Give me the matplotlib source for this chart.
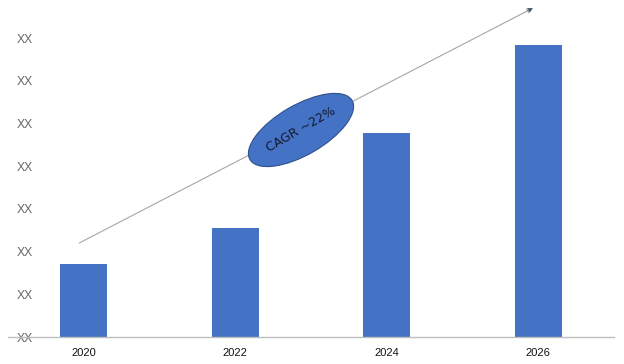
import matplotlib
matplotlib.use("Agg")
import matplotlib.pyplot as plt
from matplotlib.patches import Ellipse
from matplotlib.transforms import Affine2D

# --- DATA ---
years = ["2020", "2022", "2024", "2026"]
values = [1.71, 2.55, 4.78, 6.84]
tick_vals = [0, 1, 2, 3, 4, 5, 6, 7]
tick_labels = ["XX"] * len(tick_vals)
cagr_text = "CAGR ~22%"

BAR_COLOR = "#4472C4"

fig = plt.figure(figsize=(6.24, 3.64), dpi=100)
ax = fig.add_axes([8 / 624, 1 - 337 / 364, 606 / 624, 337 / 364])

x = list(range(len(years)))
ax.bar(x, values, width=0.31, color=BAR_COLOR, zorder=2)

ax.set_xlim(-0.5, 3.5)
ax.set_ylim(0, 7.89)
ax.set_yticks(tick_vals)
ax.set_yticklabels(tick_labels, color="#666666", fontsize=8.7, family="Liberation Sans")
ax.set_xticks(x)
ax.set_xticklabels(years, fontsize=8, family="Liberation Sans", color="#111111")
ax.tick_params(axis="both", length=0)
ax.tick_params(axis="y", pad=-6)
ax.tick_params(axis="x", pad=8)
for lbl in ax.get_yticklabels():
    lbl.set_horizontalalignment("left")

for side in ["top", "right", "left"]:
    ax.spines[side].set_visible(False)
ax.spines["bottom"].set_color("#bfbfbf")
ax.spines["bottom"].set_linewidth(1.0)

# growth arrow
ax.annotate("", xy=(2.964, 7.70), xytext=(-0.03, 2.2),
            arrowprops=dict(arrowstyle="-|>", color="#a6a6a6", lw=0.8,
                            mutation_scale=8, shrinkA=0, shrinkB=0), zorder=1)
ax.annotate("", xy=(2.964, 7.70), xytext=(2.90, 7.58),
            arrowprops=dict(arrowstyle="-|>", color="#44546A", lw=0.1,
                            mutation_scale=8, shrinkA=0, shrinkB=0), zorder=1)

# CAGR ellipse in pixel coords
px = Affine2D().scale(1 / 624, 1 / 364) + fig.transFigure
ell = Ellipse((301, 364 - 130), 118, 50, angle=30, facecolor=BAR_COLOR,
              edgecolor="#2F528F", lw=0.8, transform=px, zorder=3)
fig.patches.append(ell)
fig.text(301 / 624, 1 - 130 / 364, cagr_text, rotation=30, ha="center", va="center",
         fontsize=9, color="#141a33", family="DejaVu Sans", zorder=4)

fig.savefig("out.png", dpi=100)
